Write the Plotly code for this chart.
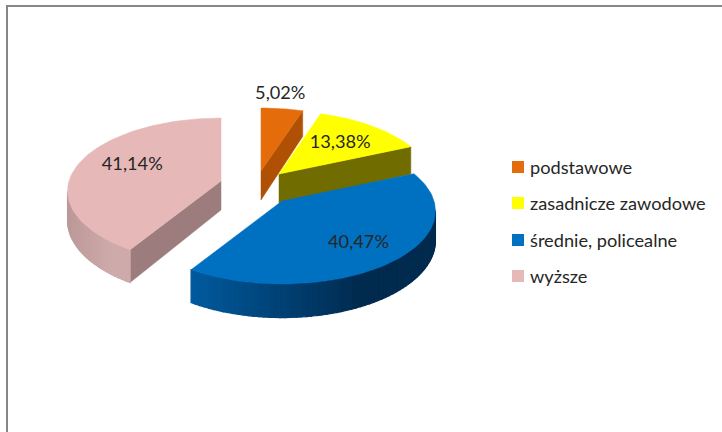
import math
import plotly.graph_objects as go

categories = ["podstawowe", "zasadnicze zawodowe", "średnie, policealne", "wyższe"]
values = [5.02, 13.38, 40.47, 41.14]

TOP_COLORS = ["#E46C0A", "#FFFF00", "#0070C0", "#E6B9B8"]
CUT_COLORS = ["#B05005", "#706C00", "#00508C", "#9C7C7C"]
WALL_LEFT = ["#B05005", "#706C00", "#005A9E", "#BC9999"]
WALL_RIGHT = ["#8A4004", "#585400", "#002A4E", "#CFAAAA"]

# exploded apex of each slice, in pixels of the 722x432 page
APEX = [(261, 171), (279, 174), (282, 201), (221, 181)]
LABEL_REACH = [1.25, 0.65, 0.68, 0.63]
LABEL_NUDGE = [(-7, 1), (1, 1), (1, 1), (0, -4)]
LEGEND_X = 518
LEGEND_TEXT_X = 530
LEGEND_Y = [167, 203, 240, 276]
LEGEND_TEXT_Y = [169, 205, 242, 278]
R, B, K, DEPTH = 152, 71.6, 0.137, 29
FONT = "Lato"
TEXT = "#262626"


def proj(apex, theta):
    u, v = math.sin(theta), -math.cos(theta)
    s = 1 / (1 - K * v)
    return apex[0] + R * u * s, apex[1] + B * v * s, DEPTH * s


def mix(a, b, t):
    ca = [int(a[i:i + 2], 16) for i in (1, 3, 5)]
    cb = [int(b[i:i + 2], 16) for i in (1, 3, 5)]
    return "rgb(%d,%d,%d)" % tuple(round(p + (q - p) * t) for p, q in zip(ca, cb))


def poly(xs, ys, color, width=0.5):
    return go.Scatter(x=xs, y=ys, mode="lines", fill="toself", fillcolor=color,
                      line=dict(color=color, width=width), hoverinfo="skip", showlegend=False)


traces = []
total = sum(values)
bounds = [0.0]
for val in values:
    bounds.append(bounds[-1] + val / total * 2 * math.pi)

# back-to-front order: pink first, blue last
for i in (3, 0, 1, 2):
    a0, a1 = bounds[i], bounds[i + 1]
    ap = APEX[i]
    n = max(6, int((a1 - a0) / 0.03))
    ths = [a0 + (a1 - a0) * j / n for j in range(n + 1)]
    pts = [proj(ap, t) for t in ths]
    # cut faces that look toward the viewer
    for t, visible in ((a0, math.sin(a0) < -1e-6), (a1, math.sin(a1) > 1e-6)):
        if visible:
            x, y, d = proj(ap, t)
            traces.append(poly([ap[0], x, x, ap[0], ap[0]],
                               [ap[1], y, y + d, ap[1] + DEPTH, ap[1]], CUT_COLORS[i]))
    # outer wall strips
    vis = [j for j in range(n) if pts[j + 1][0] < pts[j][0]]
    if vis:
        xmin = min(pts[j][0] for j in vis + [vis[-1] + 1])
        xmax = max(pts[j][0] for j in vis)
        for j in vis:
            p, q = pts[j], pts[j + 1]
            tt = min(1, ((p[0] + q[0]) / 2 - xmin) / max(1, xmax - xmin) / 0.7)
            traces.append(poly([p[0], q[0], q[0], p[0], p[0]],
                               [p[1], q[1], q[1] + q[2], p[1] + p[2], p[1]],
                               mix(WALL_LEFT[i], WALL_RIGHT[i], tt), width=1.2))
    # top face
    traces.append(poly([ap[0]] + [p[0] for p in pts] + [ap[0]],
                       [ap[1]] + [p[1] for p in pts] + [ap[1]], TOP_COLORS[i]))

# percentage labels
lx, ly, lt = [], [], []
for i, val in enumerate(values):
    mid = (bounds[i] + bounds[i + 1]) / 2
    x, y, _ = proj(APEX[i], mid)
    f = LABEL_REACH[i]
    lx.append(APEX[i][0] + (x - APEX[i][0]) * f + LABEL_NUDGE[i][0])
    ly.append(APEX[i][1] + (y - APEX[i][1]) * f + LABEL_NUDGE[i][1])
    lt.append(f"{val:.2f}".replace(".", ",") + "%")
traces.append(go.Scatter(x=lx, y=ly, mode="text", text=lt, textposition="middle center",
                         textfont=dict(family=FONT, size=18.2, color=TEXT),
                         hoverinfo="skip", showlegend=False))

# legend
traces.append(go.Scatter(x=[LEGEND_X] * 4, y=LEGEND_Y, mode="markers",
                         marker=dict(symbol="square", size=12, color=TOP_COLORS, line=dict(width=0)),
                         hoverinfo="skip", showlegend=False))
traces.append(go.Scatter(x=[LEGEND_TEXT_X] * 4, y=LEGEND_TEXT_Y, mode="text", text=categories,
                         textposition="middle right",
                         textfont=dict(family=FONT, size=18.2, color=TEXT),
                         hoverinfo="skip", showlegend=False))

fig = go.Figure(traces)
fig.update_layout(
    width=722, height=432, margin=dict(l=0, r=0, t=0, b=0),
    paper_bgcolor="white", plot_bgcolor="white", showlegend=False,
    xaxis=dict(range=[0, 722], visible=False, fixedrange=True),
    yaxis=dict(range=[432, 0], visible=False, fixedrange=True),
    shapes=[dict(type="path", path="M 722 6 L 7 6 L 7 432", xref="x", yref="y",
                 line=dict(color="#868686", width=2))],
)
fig.write_html("out.html", config=dict(displayModeBar=False),
               post_script="document.body.style.margin='0';document.body.style.overflow='hidden';")
